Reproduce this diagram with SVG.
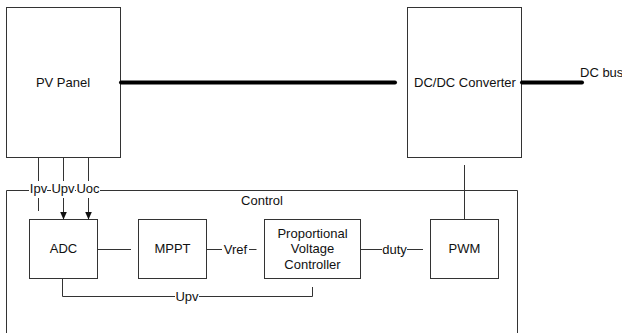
<svg xmlns="http://www.w3.org/2000/svg" width="622" height="333" viewBox="0 0 622 333">
<style>
.box{fill:#fff;stroke:#333;stroke-width:1}
.ln{fill:none;stroke:#333;stroke-width:1}
.thick{fill:none;stroke:#000;stroke-width:4;stroke-linecap:round}
text{font-family:"Liberation Sans",Arial,sans-serif;font-size:13px;fill:#111}
.c{text-anchor:middle}
</style>
<defs>
<marker id="arr" markerUnits="userSpaceOnUse" markerWidth="8" markerHeight="8" refX="8" refY="3.5" orient="auto">
<path d="M0,0 L8,3.5 L0,7 z" fill="#111"/>
</marker>
</defs>
<g id="pv-panel">
<rect class="box" x="6.5" y="7.5" width="114" height="150"/>
<text class="c" x="63" y="87">PV Panel</text>
</g>
<g id="dcdc">
<rect class="box" x="407.5" y="7.5" width="114" height="150"/>
<text class="c" x="465" y="87">DC/DC Converter</text>
</g>
<g id="dcbus">
<text x="580" y="77">DC bus</text>
</g>
<g id="control">
<path class="ln" d="M6.5,340 V190.5 H29 M47,190.5 H51 M75,190.5 H76 M100,190.5 H517.5 V340"/>
<text class="c" x="262" y="205">Control</text>
</g>
<g id="adc">
<rect class="box" x="29.5" y="219.5" width="68" height="59"/>
<text class="c" x="63.5" y="253">ADC</text>
</g>
<g id="mppt">
<rect class="box" x="138.5" y="219.5" width="68" height="59"/>
<text class="c" x="172.5" y="253">MPPT</text>
</g>
<g id="pvc">
<rect class="box" x="264.5" y="219.5" width="96" height="59"/>
<text class="c" x="312.5" y="237.5">Proportional</text>
<text class="c" x="312.5" y="253">Voltage</text>
<text class="c" x="312.5" y="268.5">Controller</text>
</g>
<g id="pwm">
<rect class="box" x="430.5" y="219.5" width="68" height="59"/>
<text class="c" x="464.5" y="253">PWM</text>
</g>
<g id="connectors">
<path class="thick" d="M121,82.5 H395"/>
<path class="thick" d="M522,82.5 H582"/>
<path class="ln" d="M38.5,158 V181 M38.5,198 V211"/>
<path class="ln" d="M63.5,158 V181"/>
<path class="ln" d="M63.5,198 V219.5" marker-end="url(#arr)"/>
<path class="ln" d="M88.5,158 V181"/>
<path class="ln" d="M88.5,198 V219.5" marker-end="url(#arr)"/>
<text class="c" x="38.5" y="193">Ipv</text>
<text class="c" x="63" y="193">Upv</text>
<text class="c" x="88" y="193">Uoc</text>
<path class="ln" d="M97.5,249.5 H115"/>
<path class="ln" d="M115,249.5 H131" stroke="#777"/>
<path class="ln" d="M206.5,249.5 H222 M249,249.5 H256.5"/>
<text class="c" x="235.5" y="254">Vref</text>
<path class="ln" d="M360.5,249.5 H382 M407,249.5 H423"/>
<text class="c" x="394.5" y="254">duty</text>
<path class="ln" d="M464.5,165 V219.5"/>
<path class="ln" d="M62.5,278.5 V296.5 H175 M199,296.5 H312.5 V287"/>
<text class="c" x="187" y="301">Upv</text>
</g>
</svg>
